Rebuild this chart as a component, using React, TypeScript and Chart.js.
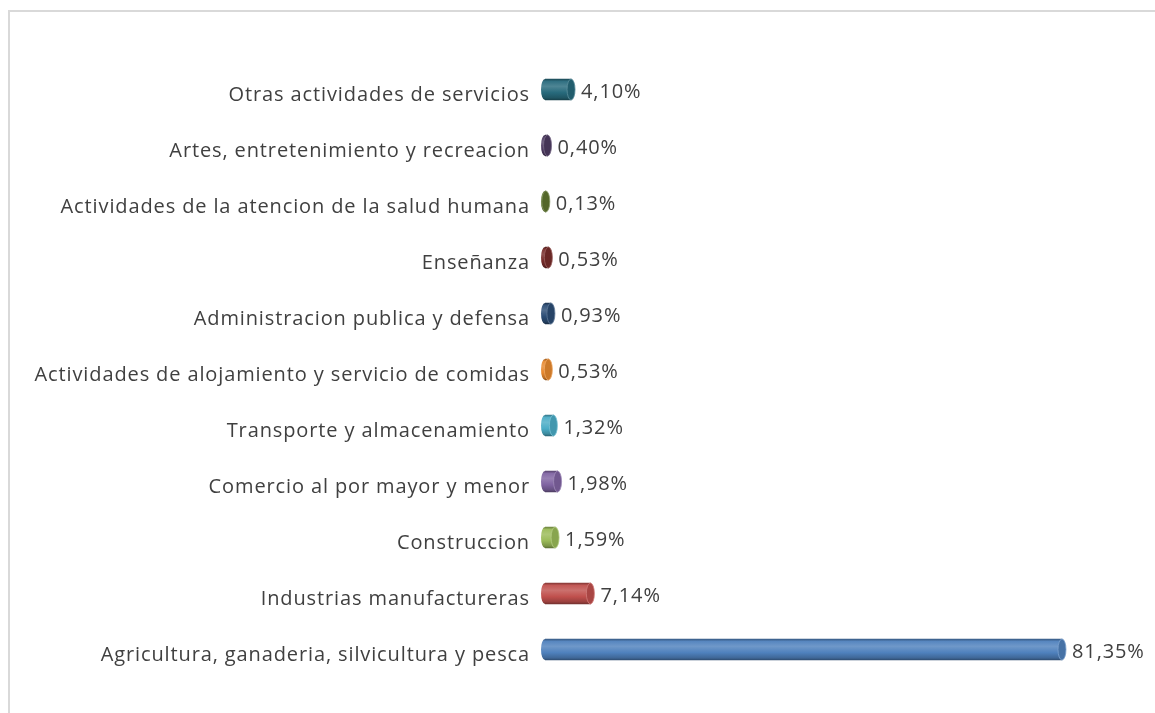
import React, { useEffect, useRef } from "react";
import { Chart, registerables } from "chart.js";

Chart.register(...registerables);

const categories = [
  "Otras actividades de servicios",
  "Artes, entretenimiento y recreacion",
  "Actividades de la atencion de la salud humana",
  "Enseñanza",
  "Administracion publica y defensa",
  "Actividades de alojamiento y servicio de comidas",
  "Transporte y almacenamiento",
  "Comercio al por mayor y menor",
  "Construccion",
  "Industrias manufactureras",
  "Agricultura, ganaderia, silvicultura y pesca",
];

const shares = [4.1, 0.4, 0.13, 0.53, 0.93, 0.53, 1.32, 1.98, 1.59, 7.14, 81.35];

const barColors = [
  "#276A7C",
  "#4D3B62",
  "#5F7530",
  "#772C2A",
  "#2C4D75",
  "#E8892F",
  "#4BACC6",
  "#8064A2",
  "#9BBB59",
  "#C0504D",
  "#4F81BD",
];

const TEXT_COLOR = "#404040";
const FONT_FAMILY = "'Open Sans', sans-serif";
const LETTER_SPACING = "0.88px";
const BAR_H = 21;
const CAP_RX = 4;

function shade(hex: string, amt: number): string {
  const n = parseInt(hex.slice(1), 16);
  let r = (n >> 16) & 255;
  let g = (n >> 8) & 255;
  let b = n & 255;
  if (amt >= 0) {
    r = Math.round(r + (255 - r) * amt);
    g = Math.round(g + (255 - g) * amt);
    b = Math.round(b + (255 - b) * amt);
  } else {
    r = Math.round(r * (1 + amt));
    g = Math.round(g * (1 + amt));
    b = Math.round(b * (1 + amt));
  }
  return `rgb(${r},${g},${b})`;
}

function cylGradient(ctx: CanvasRenderingContext2D, yc: number, h: number, c: string) {
  const g = ctx.createLinearGradient(0, yc - h / 2, 0, yc + h / 2);
  g.addColorStop(0, shade(c, -0.3));
  g.addColorStop(0.12, shade(c, 0.05));
  g.addColorStop(0.35, shade(c, 0.18));
  g.addColorStop(0.65, c);
  g.addColorStop(0.9, shade(c, -0.2));
  g.addColorStop(1, shade(c, -0.4));
  return g;
}

const spacingPlugin = {
  id: "spacing",
  beforeDraw(chart: any) {
    (chart.ctx as any).letterSpacing = LETTER_SPACING;
  },
  afterDraw(chart: any) {
    (chart.ctx as any).letterSpacing = "0px";
  },
};

const cylinderPlugin = {
  id: "cylinder",
  afterDatasetsDraw(chart: any) {
    const ctx: CanvasRenderingContext2D = chart.ctx;
    const meta = chart.getDatasetMeta(0);
    meta.data.forEach((el: any, i: number) => {
      const c = barColors[i];
      const h = el.height;
      const ry = h / 2;
      ctx.save();
      ctx.beginPath();
      ctx.ellipse(el.base, el.y, CAP_RX, ry, 0, 0, Math.PI * 2);
      ctx.fillStyle = cylGradient(ctx, el.y, h, c);
      ctx.fill();
      ctx.beginPath();
      ctx.ellipse(el.x, el.y, CAP_RX, ry, 0, 0, Math.PI * 2);
      ctx.fillStyle = shade(c, -0.12);
      ctx.fill();
      ctx.lineWidth = 0.8;
      ctx.strokeStyle = shade(c, 0.25);
      ctx.stroke();
      ctx.restore();
    });
  },
  afterDraw(chart: any) {
    const ctx: CanvasRenderingContext2D = chart.ctx;
    const meta = chart.getDatasetMeta(0);
    ctx.save();
    (ctx as any).letterSpacing = LETTER_SPACING;
    ctx.font = `20px ${FONT_FAMILY}`;
    ctx.fillStyle = TEXT_COLOR;
    ctx.textAlign = "left";
    ctx.textBaseline = "middle";
    meta.data.forEach((el: any, i: number) => {
      const txt = shares[i].toFixed(2).replace(".", ",") + "%";
      ctx.fillText(txt, el.x + CAP_RX + 6, el.y + 3);
    });
    ctx.restore();
  },
};

export default function App() {
  const canvasRef = useRef<HTMLCanvasElement | null>(null);

  useEffect(() => {
    if (!canvasRef.current) return;
    const chart = new Chart(canvasRef.current, {
      type: "bar",
      data: {
        labels: categories,
        datasets: [
          {
            data: shares,
            backgroundColor: (c: any) => {
              const chart = c.chart;
              const col = barColors[c.dataIndex] || "#4F81BD";
              const ys = chart.scales && chart.scales.y;
              if (!ys || c.type !== "data") return col;
              const yc = ys.getPixelForValue(c.dataIndex);
              if (!isFinite(yc)) return col;
              return cylGradient(chart.ctx, yc, BAR_H, col);
            },
            borderWidth: 0,
            barThickness: BAR_H,
          },
        ],
      },
      options: {
        indexAxis: "y",
        animation: false,
        responsive: true,
        maintainAspectRatio: false,
        layout: { padding: { left: 0, right: 69.8, top: 61.5, bottom: 35.5 } },
        plugins: {
          legend: { display: false },
          tooltip: { enabled: false },
        },
        scales: {
          x: {
            display: false,
            min: 0,
            max: 85,
          },
          y: {
            grid: { display: false, drawTicks: false },
            border: { display: false },
            ticks: {
              padding: 15,
              labelOffset: 6,
              color: TEXT_COLOR,
              font: { family: FONT_FAMILY, size: 20 },
            },
            afterFit(scale: any) {
              scale.width = 545;
            },
          },
        },
      },
      plugins: [spacingPlugin, cylinderPlugin],
    });
    return () => chart.destroy();
  }, []);

  return (
    <>
      <div
        style={{
          position: "fixed",
          left: 8,
          top: 10,
          width: 1200,
          height: 760,
          borderTop: "2px solid #d9d9d9",
          borderLeft: "2px solid #d9d9d9",
          boxSizing: "border-box",
        }}
      />
      <div style={{ position: "fixed", left: 0, top: 0, width: 1155, height: 713 }}>
        <canvas ref={canvasRef} />
      </div>
    </>
  );
}
